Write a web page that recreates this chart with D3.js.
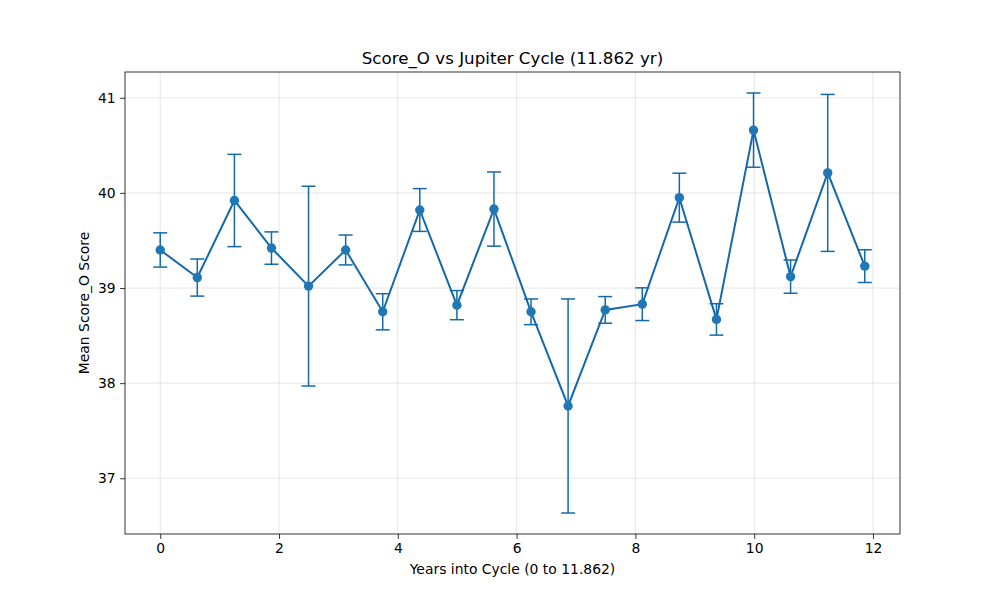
<!DOCTYPE html>
<html><head><meta charset="utf-8">
<script src="https://cdn.jsdelivr.net/npm/d3@7"></script>
<style>body{margin:0;background:#fff;} text{font-family:"DejaVu Sans",sans-serif;}</style>
</head><body><svg id="c" width="1000" height="600"></svg>
<script>
const years = [0, 0.624, 1.249, 1.873, 2.497, 3.122, 3.746, 4.370, 4.995, 5.619, 6.243, 6.867, 7.492, 8.116, 8.740, 9.365, 9.989, 10.613, 11.238, 11.862];
const meanScore = [39.40, 39.11, 39.92, 39.42, 39.02, 39.40, 38.75, 39.82, 38.82, 39.83, 38.75, 37.76, 38.77, 38.83, 39.95, 38.67, 40.66, 39.12, 40.21, 39.23];
const errScore = [0.18, 0.195, 0.485, 0.17, 1.05, 0.157, 0.19, 0.225, 0.153, 0.39, 0.135, 1.125, 0.14, 0.172, 0.257, 0.165, 0.39, 0.175, 0.825, 0.172];
const xTicks = [0, 2, 4, 6, 8, 10, 12];
const yTicks = [37, 38, 39, 40, 41];
const title = "Score_O vs Jupiter Cycle (11.862 yr)";
const xLabel = "Years into Cycle (0 to 11.862)";
const yLabel = "Mean Score_O Score";

const svg = d3.select("#c");
const L = 125, R = 900, T = 72, B = 534;
const color = "#1f77b4";
const lineColor = "#1369ab";

const xMin = d3.min(years), xMax = d3.max(years);
const xPad = (xMax - xMin) * 0.05;
const lo = d3.min(meanScore.map((m, i) => m - errScore[i]));
const hi = d3.max(meanScore.map((m, i) => m + errScore[i]));
const yPad = (hi - lo) * 0.05;
const x = d3.scaleLinear().domain([xMin - xPad, xMax + xPad]).range([L, R]);
const y = d3.scaleLinear().domain([lo - yPad, hi + yPad]).range([B, T]);

// grid
const g = svg.append("g");
g.selectAll(".gx").data(xTicks).enter().append("line")
  .attr("x1", d => x(d)).attr("x2", d => x(d)).attr("y1", T).attr("y2", B)
  .attr("stroke", "#b0b0b0").attr("stroke-opacity", 0.4).attr("stroke-width", 0.8);
g.selectAll(".gy").data(yTicks).enter().append("line")
  .attr("y1", d => y(d)).attr("y2", d => y(d)).attr("x1", L).attr("x2", R)
  .attr("stroke", "#b0b0b0").attr("stroke-opacity", 0.4).attr("stroke-width", 0.8);

// axes
const xAxis = d3.axisBottom(x).tickValues(xTicks).tickSize(4.9).tickPadding(4.5).tickFormat(d3.format("d"));
const yAxis = d3.axisLeft(y).tickValues(yTicks).tickSize(4.9).tickPadding(4.5).tickFormat(d3.format("d"));
const ax = svg.append("g").attr("transform", `translate(0,${B})`).call(xAxis);
const ay = svg.append("g").attr("transform", `translate(${L},0)`).call(yAxis);
[ax, ay].forEach(a => {
  a.select(".domain").remove();
  a.selectAll("line").attr("stroke", "#000").attr("stroke-width", 0.8);
  a.selectAll("text").attr("font-size", "13.9px").attr("fill", "#000").attr("font-family", "DejaVu Sans");
});

// error bars
const eb = svg.append("g").attr("stroke", lineColor).attr("stroke-width", 1.5).attr("fill", "none");
years.forEach((yr, i) => {
  const cx = x(yr), y1 = y(meanScore[i] + errScore[i]), y2 = y(meanScore[i] - errScore[i]);
  eb.append("line").attr("x1", cx).attr("x2", cx).attr("y1", y1).attr("y2", y2);
  eb.append("line").attr("x1", cx - 7).attr("x2", cx + 7).attr("y1", y1).attr("y2", y1);
  eb.append("line").attr("x1", cx - 7).attr("x2", cx + 7).attr("y1", y2).attr("y2", y2);
});

// line
const line = d3.line().x((d, i) => x(years[i])).y(d => y(d));
svg.append("path").datum(meanScore).attr("d", line).attr("fill", "none")
  .attr("stroke", lineColor).attr("stroke-width", 2);

svg.append("g").selectAll("circle").data(meanScore).enter().append("circle")
  .attr("cx", (d, i) => x(years[i])).attr("cy", d => y(d)).attr("r", 4.7).attr("fill", color);

// frame
svg.append("rect").attr("x", L).attr("y", T).attr("width", R - L).attr("height", B - T)
  .attr("fill", "none").attr("stroke", "#000").attr("stroke-width", 0.8);

svg.append("text").attr("x", (L + R) / 2).attr("y", 64).attr("text-anchor", "middle")
  .attr("font-size", "16.7px").text(title);
svg.append("text").attr("x", (L + R) / 2).attr("y", 574).attr("text-anchor", "middle")
  .attr("font-size", "13.9px").text(xLabel);
svg.append("text").attr("transform", `translate(89,${(T + B) / 2}) rotate(-90)`).attr("text-anchor", "middle")
  .attr("font-size", "13.9px").text(yLabel);
</script></body></html>
